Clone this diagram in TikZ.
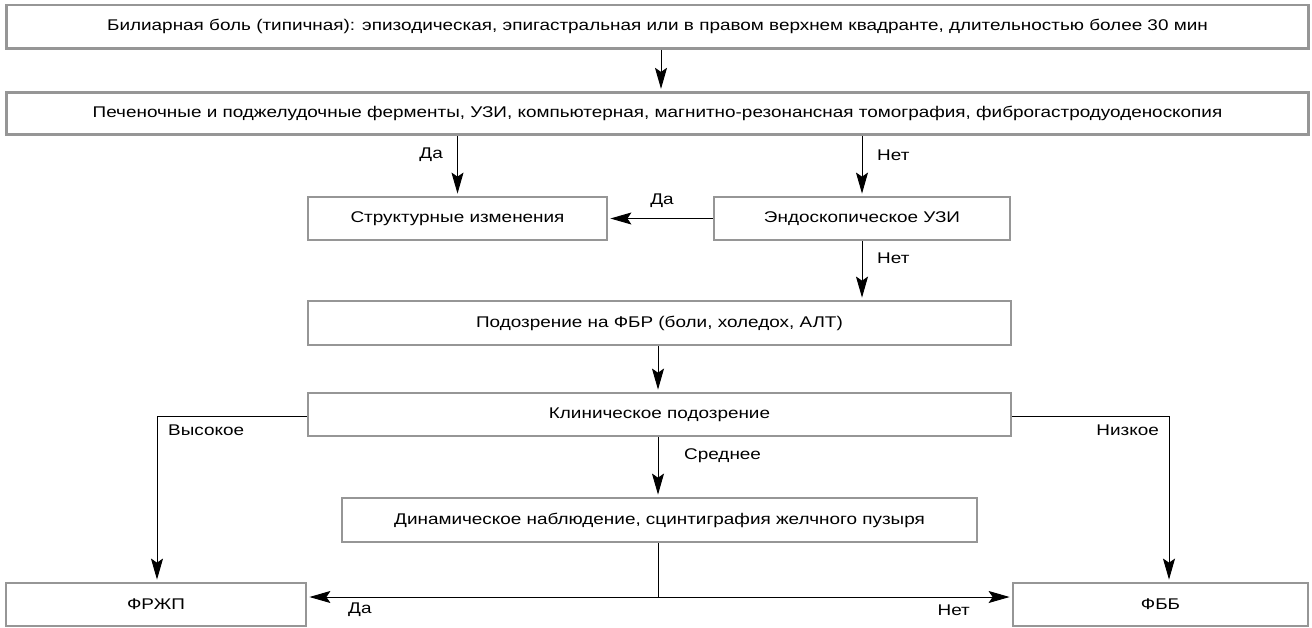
\documentclass[tikz,border=0pt]{standalone}
\usepackage{fontspec}
\setmainfont{Liberation Sans}[FakeStretch=1.22]
\usetikzlibrary{arrows.meta}
\definecolor{boxgray}{RGB}{150,150,150}
\begin{document}
\begin{tikzpicture}[x=1pt,y=-1pt,
  box/.style={draw=boxgray, line width=2.8pt, inner sep=0pt, font=\fontsize{15.5}{18}\selectfont, anchor=center},
  conn/.style={line width=1pt, shorten >=2pt, -{Stealth[length=21pt,width=12pt,inset=4pt]}},
  plain/.style={line width=1pt},
  lab/.style={font=\fontsize{15.5}{18}\selectfont, inner sep=0pt}]
\useasboundingbox (0,0) rectangle (1312,627);
\node[box, minimum width=1302pt, minimum height=43.5pt] (b1) at (657.5,26.75) {Билиарная боль (типичная): эпизодическая, эпигастральная или в правом верхнем квадранте, длительностью более 30 мин};
\node[box, minimum width=1302pt, minimum height=42.5pt] (b2) at (657.5,113.5) {Печеночные и поджелудочные ферменты, УЗИ, компьютерная, магнитно-резонансная томография, фиброгастродуоденоскопия};
\node[box, minimum width=299pt, minimum height=43pt] (st) at (457.5,218.5) {Структурные изменения};
\node[box, minimum width=296pt, minimum height=43pt] (en) at (862,218.5) {Эндоскопическое УЗИ};
\node[box, minimum width=703pt, minimum height=44pt] (pod) at (659.5,323) {Подозрение на ФБР (боли, холедох, АЛТ)};
\node[box, minimum width=703pt, minimum height=43pt] (kl) at (659.5,414.5) {Клиническое подозрение};
\node[box, minimum width=635pt, minimum height=44pt] (dyn) at (659.5,520) {Динамическое наблюдение, сцинтиграфия желчного пузыря};
\node[box, minimum width=300pt, minimum height=43pt] (fr) at (156,604.5) {ФРЖП};
\node[box, minimum width=295pt, minimum height=43pt] (fb) at (1160.5,604.5) {ФББ};
\coordinate (j) at (658,597);
% connectors
\draw[conn] ([xshift=3.5pt]b1.south) -- ([xshift=3.5pt]b2.north);
\draw[conn] (st.north |- b2.south) -- (st.north);
\draw[conn] (en.north |- b2.south) -- (en.north);
\draw[conn] (en.west) -- (st.east);
\draw[conn] (en.south) -- (en.south |- pod.north);
\draw[conn] ([xshift=-1.5pt]pod.south) -- ([xshift=-1.5pt]kl.north);
\draw[conn] ([xshift=-1.5pt]kl.south) -- ([xshift=-1.5pt]dyn.north);
\draw[conn] ([yshift=-2pt]kl.west) -| ([xshift=1pt]fr.north);
\draw[conn] ([yshift=-2pt]kl.east) -| ([xshift=8.5pt]fb.north);
\draw[plain] ([xshift=-1.5pt]dyn.south) -- (j);
\draw[conn] (j) -- (fr.east |- j);
\draw[conn] (j) -- (fb.west |- j);
% labels
\node[lab, anchor=east] (l1) at (443,155) {Да};
\node[lab, anchor=west] (l2) at (877,155) {Нет};
\node[lab] (l3) at (662,201) {Да};
\node[lab, anchor=west] (l4) at (877,258) {Нет};
\node[lab, anchor=west] (l5) at (168,430) {Высокое};
\node[lab, anchor=east] (l6) at (1159,430) {Низкое};
\node[lab, anchor=west] (l7) at (684,456) {Среднее};
\node[lab, anchor=west] (l8) at (348,610) {Да};
\node[lab, anchor=east] (l9) at (970,610) {Нет};
\end{tikzpicture}
\end{document}
